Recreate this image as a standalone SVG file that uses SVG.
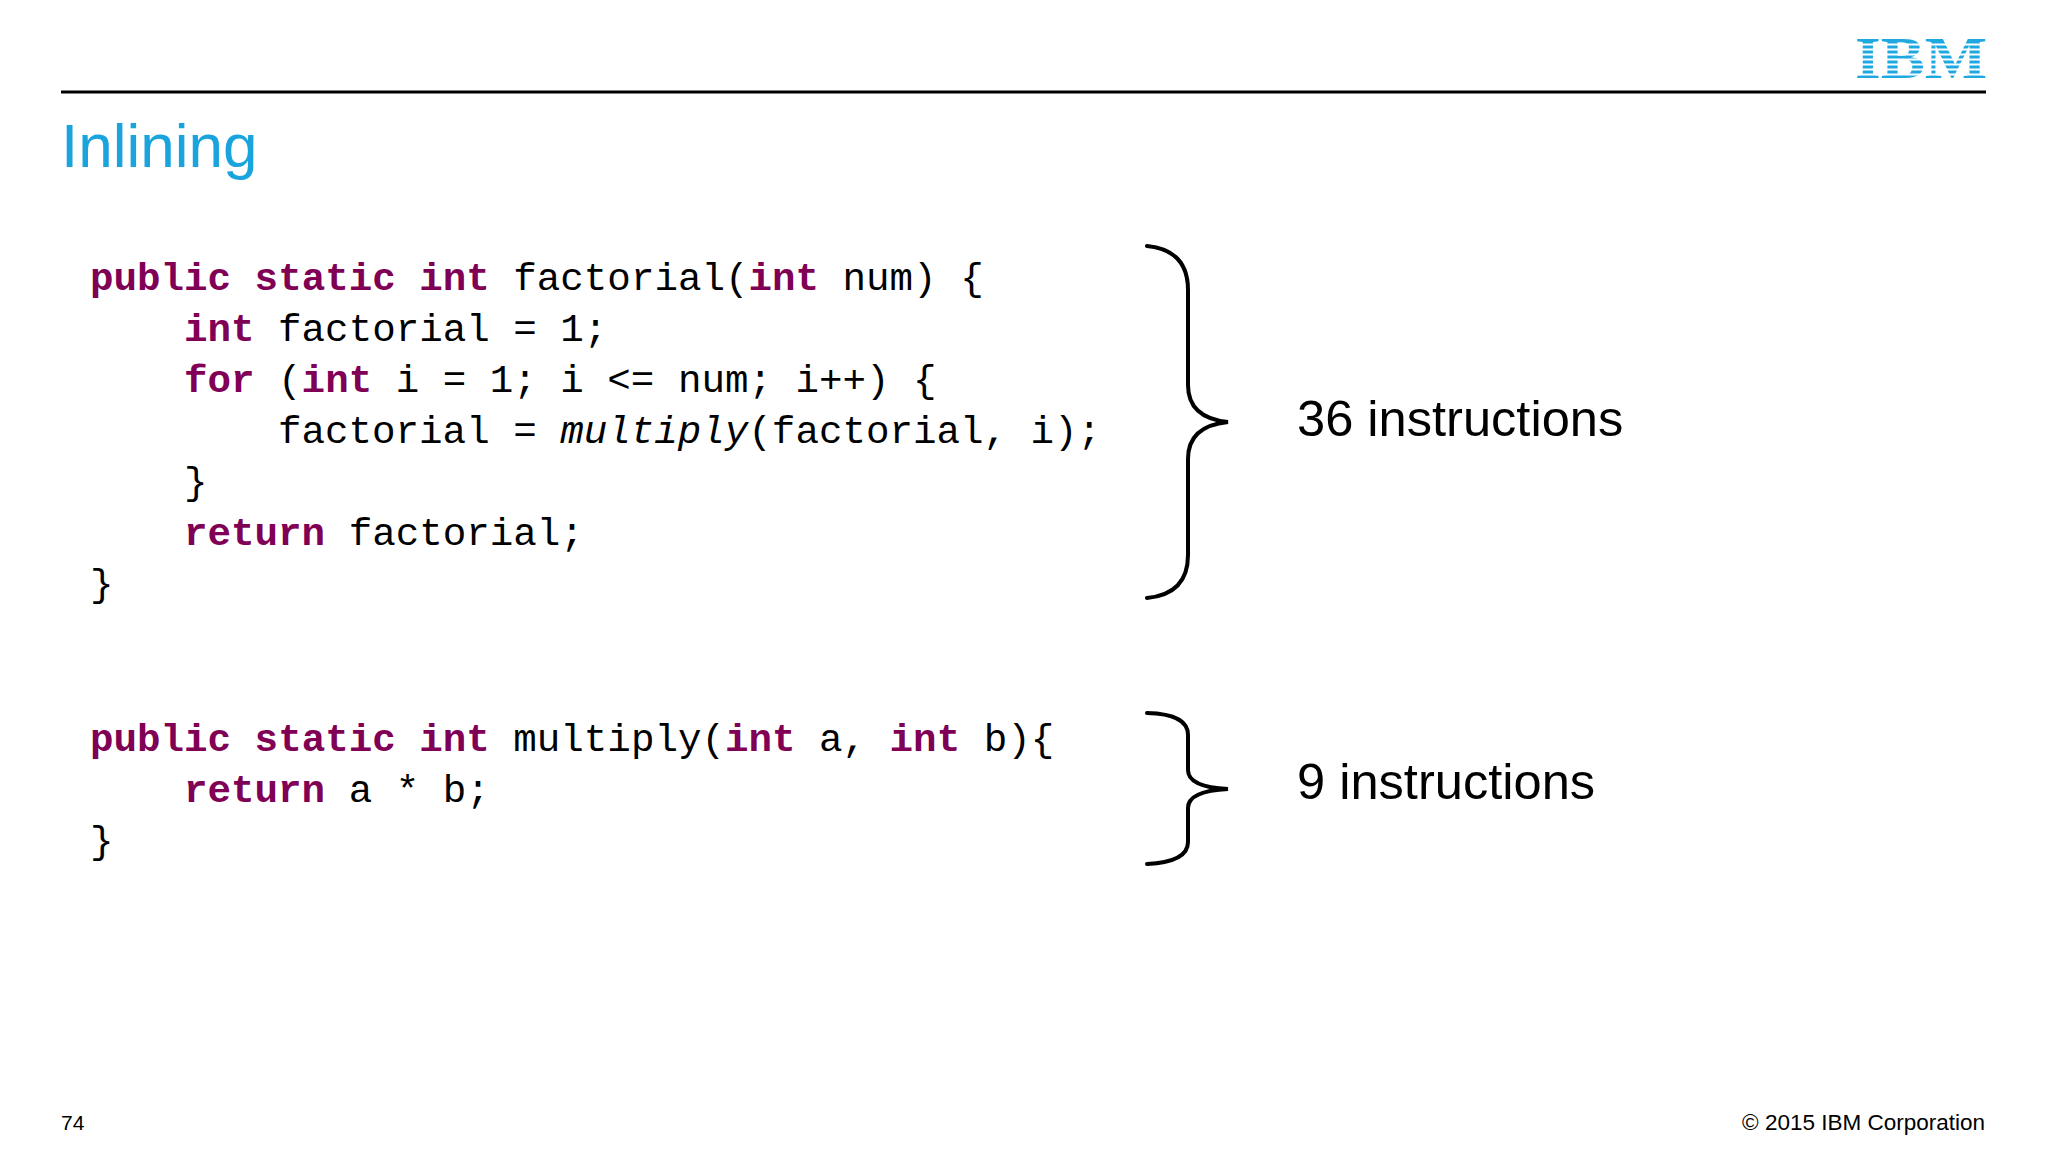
<svg xmlns="http://www.w3.org/2000/svg" width="2048" height="1152" viewBox="0 0 2048 1152">
<style>
.code{font-family:"Liberation Mono","DejaVu Sans Mono",monospace;font-size:39.2px;fill:#000}
.kw{fill:#7F0055;font-weight:bold}
.lbl{font-family:"Liberation Sans",Arial,sans-serif;fill:#000}
.brace{fill:none;stroke:#000;stroke-width:4;stroke-linecap:round}
</style>
<rect width="2048" height="1152" fill="#fff"/>
<g id="header">
<line x1="61" y1="92" x2="1986" y2="92" stroke="#000" stroke-width="3"/>
<text x="61" y="167" font-family="Liberation Sans,Arial,sans-serif" font-size="62" fill="#1AA4DD">Inlining</text>
<g id="logo">
<text transform="translate(1855,78) scale(1.12,1)" font-family="Liberation Serif,serif" font-weight="bold" font-size="59" fill="#1FA8E0">IBM</text>
<g fill="#fff">
<rect x="1850" y="43.5" width="145" height="2"/>
<rect x="1850" y="48.5" width="145" height="2"/>
<rect x="1850" y="53.5" width="145" height="2"/>
<rect x="1850" y="58.5" width="145" height="2"/>
<rect x="1850" y="63.5" width="145" height="2"/>
<rect x="1850" y="68.5" width="145" height="2"/>
<rect x="1850" y="73.5" width="145" height="2"/>
</g>
</g>
</g>
<g id="code1" xml:space="preserve">
<text class="code" x="90" y="290"><tspan class="kw">public static int</tspan> factorial(<tspan class="kw">int</tspan> num) {</text>
<text class="code" x="184" y="341"><tspan class="kw">int</tspan> factorial = 1;</text>
<text class="code" x="184" y="392"><tspan class="kw">for</tspan> (<tspan class="kw">int</tspan> i = 1; i &lt;= num; i++) {</text>
<text class="code" x="278" y="443">factorial = <tspan font-style="italic">multiply</tspan>(factorial, i);</text>
<text class="code" x="184" y="494">}</text>
<text class="code" x="184" y="545"><tspan class="kw">return</tspan> factorial;</text>
<text class="code" x="90" y="596">}</text>
</g>
<g id="code2" xml:space="preserve">
<text class="code" x="90" y="751"><tspan class="kw">public static int</tspan> multiply(<tspan class="kw">int</tspan> a, <tspan class="kw">int</tspan> b){</text>
<text class="code" x="184" y="802"><tspan class="kw">return</tspan> a * b;</text>
<text class="code" x="90" y="853">}</text>
</g>
<g id="connectors">
<path class="brace" d="M1147,246 Q1188,250 1188,290 L1188,385 Q1188,418 1228,422 Q1188,426 1188,459 L1188,555 Q1188,594 1147,598"/>
<path class="brace" d="M1147,713 Q1188,714 1188,735 L1188,770 Q1188,787 1228,789 Q1188,791 1188,808 L1188,842 Q1188,862 1147,864"/>
</g>
<g id="label36"><text class="lbl" x="1297" y="436" font-size="50.6">36 instructions</text></g>
<g id="label9"><text class="lbl" x="1297" y="799" font-size="50.6">9 instructions</text></g>
<g id="footer">
<text class="lbl" x="61" y="1130" font-size="21">74</text>
<text class="lbl" x="1985" y="1130" font-size="22.5" text-anchor="end">© 2015 IBM Corporation</text>
</g>
</svg>
